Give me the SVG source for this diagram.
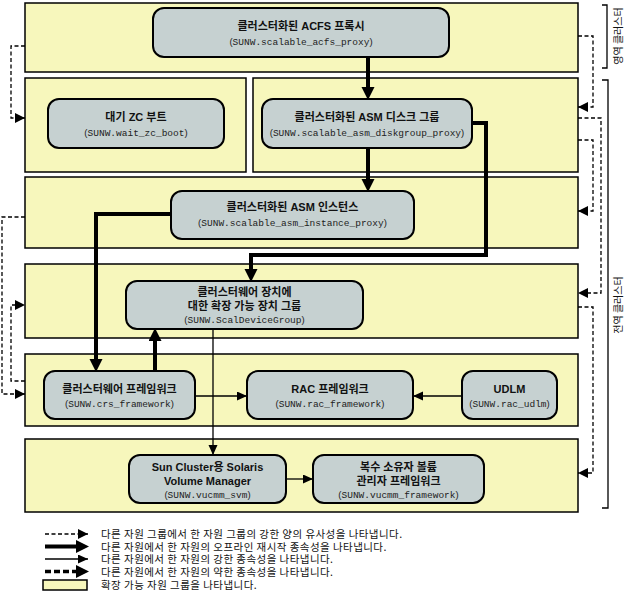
<svg xmlns="http://www.w3.org/2000/svg" width="638" height="605" viewBox="0 0 638 605">
<style>
  .band { fill:#f7f7bc; stroke:#000; stroke-width:1.5; }
  .node { fill:#c6d1d1; stroke:#000; stroke-width:2; }
  .t { font-family:"Liberation Sans","Noto Sans CJK KR",sans-serif; font-size:11px; font-weight:bold; text-anchor:middle; fill:#111; }
  .m { font-family:"Liberation Mono","Noto Sans CJK KR",monospace; font-size:9.5px; text-anchor:middle; fill:#222; }
  .p { font-family:"Liberation Sans",sans-serif; }
  .thick { fill:none; stroke:#000; stroke-width:4; }
  .thin { fill:none; stroke:#000; stroke-width:1.3; }
  .aff { fill:none; stroke:#000; stroke-width:1.3; stroke-dasharray:4 2.5; }
  .weak { fill:none; stroke:#000; stroke-width:3.5; stroke-dasharray:6 3; }
  .leg { font-family:"Noto Sans CJK KR","Liberation Sans",sans-serif; font-size:10.5px; letter-spacing:0.45px; fill:#111; }
  .side { font-family:"Noto Sans CJK KR","Liberation Sans",sans-serif; font-size:10px; fill:#111; text-anchor:middle; }
  .br { fill:none; stroke:#000; stroke-width:1.3; }
</style>
<defs>
  <marker id="ahThick" markerUnits="userSpaceOnUse" markerWidth="14" markerHeight="14" refX="6" refY="6.5" orient="auto">
    <path d="M0,0 L13,6.5 L0,13 z" fill="#000"/>
  </marker>
  <marker id="ahThin" markerUnits="userSpaceOnUse" markerWidth="11" markerHeight="10" refX="10" refY="4.5" orient="auto">
    <path d="M0,0 L10,4.5 L0,9 z" fill="#000"/>
  </marker>
  <marker id="ahAff" markerUnits="userSpaceOnUse" markerWidth="11" markerHeight="11" refX="10" refY="5" orient="auto">
    <path d="M0,0 L10,5 L0,10 z" fill="#000"/>
  </marker>
  <marker id="ahWeak" markerUnits="userSpaceOnUse" markerWidth="14" markerHeight="14" refX="6" refY="6.5" orient="auto">
    <path d="M0,0 L13,6.5 L0,13 z" fill="#000"/>
  </marker>
</defs>

<g id="bands">
  <rect id="rg-acfs" class="band" x="25" y="3" width="553" height="69"/>
  <rect id="rg-waitzc" class="band" x="25" y="78" width="221" height="94"/>
  <rect id="rg-asmdg" class="band" x="253" y="78" width="325" height="94"/>
  <rect id="rg-asminst" class="band" x="25" y="177" width="553" height="71"/>
  <rect id="rg-scaldev" class="band" x="25" y="264" width="553" height="74"/>
  <rect id="rg-crs" class="band" x="25" y="354" width="553" height="72"/>
  <rect id="rg-vucmm" class="band" x="25" y="439" width="553" height="73"/>
</g>

<g id="node-acfs">
  <rect class="node" x="153" y="8" width="296" height="49" rx="11"/>
  <text class="t" x="301" y="30">클러스터화된 ACFS 프록시</text>
  <text class="m" x="301" y="45"><tspan class="p">(</tspan>SUNW.scalable_acfs_proxy<tspan class="p">)</tspan></text>
</g>
<g id="node-waitzc">
  <rect class="node" x="48" y="99" width="176" height="49" rx="11"/>
  <text class="t" x="136" y="121">대기 ZC 부트</text>
  <text class="m" x="136" y="136"><tspan class="p">(</tspan>SUNW.wait_zc_boot<tspan class="p">)</tspan></text>
</g>
<g id="node-asmdg">
  <rect class="node" x="262" y="99" width="210" height="49" rx="11"/>
  <text class="t" x="367" y="121">클러스터화된 ASM 디스크 그룹</text>
  <text class="m" x="367" y="136"><tspan class="p">(</tspan>SUNW.scalable_asm_diskgroup_proxy<tspan class="p">)</tspan></text>
</g>
<g id="node-asminst">
  <rect class="node" x="171" y="191" width="243" height="48" rx="11"/>
  <text class="t" x="292.5" y="211">클러스터화된 ASM 인스턴스</text>
  <text class="m" x="292.5" y="226"><tspan class="p">(</tspan>SUNW.scalable_asm_instance_proxy<tspan class="p">)</tspan></text>
</g>
<g id="node-scaldev">
  <rect class="node" x="126" y="281" width="237" height="48" rx="11"/>
  <text class="t" x="244.5" y="296">클러스터웨어 장치에</text>
  <text class="t" x="244.5" y="310">대한 확장 가능 장치 그룹</text>
  <text class="m" x="244.5" y="323"><tspan class="p">(</tspan>SUNW.ScalDeviceGroup<tspan class="p">)</tspan></text>
</g>
<g id="node-crs">
  <rect class="node" x="44" y="371" width="151" height="48" rx="11"/>
  <text class="t" x="119.5" y="393">클러스터웨어 프레임워크</text>
  <text class="m" x="119.5" y="407"><tspan class="p">(</tspan>SUNW.crs_framework<tspan class="p">)</tspan></text>
</g>
<g id="node-rac">
  <rect class="node" x="247" y="371" width="166" height="48" rx="11"/>
  <text class="t" x="330" y="393">RAC 프레임워크</text>
  <text class="m" x="330" y="407"><tspan class="p">(</tspan>SUNW.rac_framework<tspan class="p">)</tspan></text>
</g>
<g id="node-udlm">
  <rect class="node" x="462" y="371" width="95" height="48" rx="11"/>
  <text class="t" x="509.5" y="393">UDLM</text>
  <text class="m" x="509.5" y="407"><tspan class="p">(</tspan>SUNW.rac_udlm<tspan class="p">)</tspan></text>
</g>
<g id="node-svm">
  <rect class="node" x="129" y="455" width="157" height="48" rx="11"/>
  <text class="t" x="207.5" y="471">Sun Cluster용 Solaris</text>
  <text class="t" x="207.5" y="485">Volume Manager</text>
  <text class="m" x="207.5" y="498"><tspan class="p">(</tspan>SUNW.vucmm_svm<tspan class="p">)</tspan></text>
</g>
<g id="node-vucmmfw">
  <rect class="node" x="313" y="455" width="171" height="48" rx="11"/>
  <text class="t" x="398.5" y="471">복수 소유자 볼륨</text>
  <text class="t" x="398.5" y="485">관리자 프레임워크</text>
  <text class="m" x="398.5" y="498"><tspan class="p">(</tspan>SUNW.vucmm_framework<tspan class="p">)</tspan></text>
</g>

<g id="connectors">
  <path class="thick" d="M368,57 V93" marker-end="url(#ahThick)"/>
  <path class="thick" d="M368,148 V185" marker-end="url(#ahThick)"/>
  <path class="thick" d="M472,123 H486 V255 H251 V275" marker-end="url(#ahThick)"/>
  <path class="thick" d="M171,214 H96 V365" marker-end="url(#ahThick)"/>
  <path class="thick" d="M155,371 V335" marker-end="url(#ahThick)"/>

  <path class="thin" d="M195,396 H247" marker-end="url(#ahThin)"/>
  <path class="thin" d="M462,396 H413" marker-end="url(#ahThin)"/>
  <path class="thin" d="M213,329 V455" marker-end="url(#ahThin)"/>
  <path class="thin" d="M286,479 H313" marker-end="url(#ahThin)"/>

  <path class="aff" d="M25,46 H11 V118 H25" marker-end="url(#ahAff)"/>
  <path class="aff" d="M25,217 H2 V394 H25" marker-end="url(#ahAff)"/>
  <path class="aff" d="M25,381 H11 V305 H25" marker-end="url(#ahAff)"/>
  <path class="aff" d="M578,36 H593 V107 H578" marker-end="url(#ahAff)"/>
  <path class="aff" d="M578,118 H601 V293 H578" marker-end="url(#ahAff)"/>
  <path class="aff" d="M578,140 H593 V211 H578" marker-end="url(#ahAff)"/>
  <path class="aff" d="M578,307 H593 V473 H578" marker-end="url(#ahAff)"/>
</g>

<g id="scope-labels">
  <path class="br" d="M602,5 H607 V68 H602"/>
  <text class="side" transform="translate(617,36) rotate(-90)" dominant-baseline="central">영역 클러스터</text>
  <path class="br" d="M602,80 H608 V508 H602"/>
  <text class="side" transform="translate(617,305) rotate(-90)" dominant-baseline="central">전역 클러스터</text>
</g>

<g id="legend">
  <path class="aff" d="M45,534 H88" stroke-dasharray="3 2" marker-end="url(#ahAff)"/>
  <path class="thick" d="M45,546.5 H82" marker-end="url(#ahThick)"/>
  <path class="thin" d="M45,559 H88" stroke-width="1.6" marker-end="url(#ahThin)"/>
  <path class="weak" d="M45,571.5 H82" marker-end="url(#ahWeak)"/>
  <rect class="band" x="43" y="580" width="44" height="10"/>
  <text class="leg" x="101" y="538">다른 자원 그룹에서 한 자원 그룹의 강한 양의 유사성을 나타냅니다.</text>
  <text class="leg" x="101" y="550.5">다른 자원에서 한 자원의 오프라인 재시작 종속성을 나타냅니다.</text>
  <text class="leg" x="101" y="563">다른 자원에서 한 자원의 강한 종속성을 나타냅니다.</text>
  <text class="leg" x="101" y="575.5">다른 자원에서 한 자원의 약한 종속성을 나타냅니다.</text>
  <text class="leg" x="101" y="589">확장 가능 자원 그룹을 나타냅니다.</text>
</g>
</svg>
